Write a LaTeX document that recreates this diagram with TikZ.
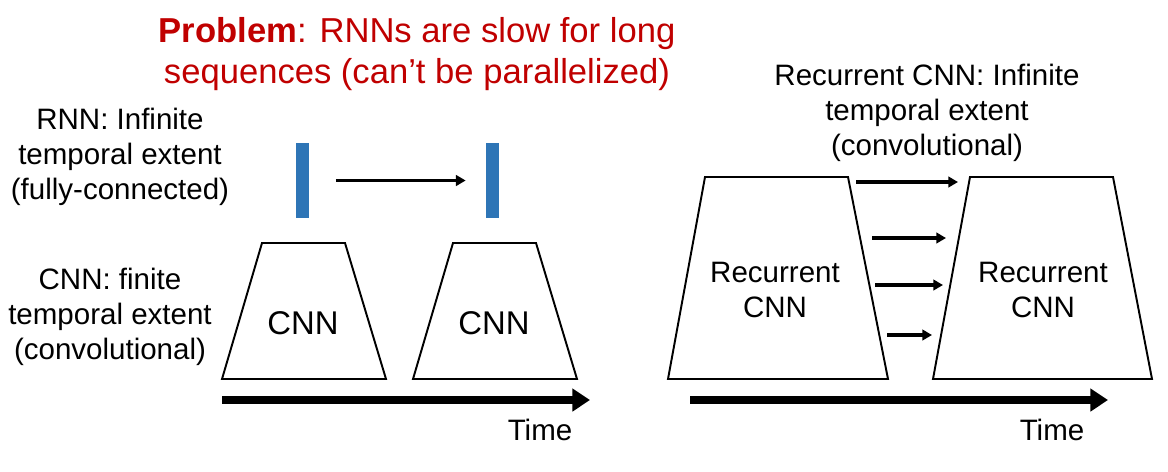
\documentclass[tikz,border=0pt]{standalone}
\usepackage{fontspec}
\setmainfont{Liberation Sans}
\usetikzlibrary{arrows.meta, positioning}
\definecolor{probred}{RGB}{192,0,0}
\definecolor{barblue}{RGB}{46,117,182}

\begin{document}
\begin{tikzpicture}[
  x=0.02cm, y=-0.02cm,
  lbl/.style={align=center, font=\fontsize{16.8}{19.8}\selectfont, inner sep=0pt},
  biglbl/.style={lbl, font=\fontsize{18.7}{22}\selectfont},
  title/.style={align=center, text=probred, font=\fontsize{19.7}{23.8}\selectfont, inner sep=0pt},
  trap/.style={draw=black, line width=1.1pt, line join=miter},
  bar/.style={rectangle, fill=barblue, minimum width=0.26cm, minimum height=1.5cm, inner sep=0pt},
  arr/.style={-{Triangle[length=5.5pt, width=6pt]}, line width=2pt},
  timearr/.style={-{Triangle[length=10pt, width=12.5pt]}, line width=5pt}
]
\useasboundingbox (0,0) rectangle (1168,471);

% title
\node[title] (problem) at (417,54) {\textbf{Problem}: RNNs are slow for long\\sequences (can’t be parallelized)};

% left panel
\node[lbl] (rnnlbl) at (120,157) {RNN: Infinite\\temporal extent\\(fully-connected)};
\node[lbl] (cnnlbl) at (110,317) {CNN: finite\\temporal extent\\(convolutional)};

\node[bar] (bar1) at (302,180.5) {};
\node[bar] (bar2) at (492.5,180.5) {};
\draw[arr, shorten <=27*0.02cm, shorten >=20*0.02cm] (bar1) -- (bar2);

\draw[trap] (222,379) -- (262,243) -- (345,243) -- (386,379) -- cycle;
\draw[trap] (413,379) -- (453,243) -- (536,243) -- (577,379) -- cycle;
\node[biglbl] (cnn1) at (303,323) {CNN};
\node[biglbl] (cnn2) at (494,323) {CNN};

\coordinate (tl1) at (222,400);
\coordinate (tl2) at (590,400);
\draw[timearr] (tl1) -- (tl2);
\node[lbl] (time1) at (540,430) {Time};

% right panel
\node[lbl] (rcnnlbl) at (927,113) {Recurrent CNN: Infinite\\temporal extent\\(convolutional)};

\draw[trap] (668,379) -- (705,177) -- (848,177) -- (888,379) -- cycle;
\draw[trap] (933,379) -- (970,177) -- (1113,177) -- (1152,379) -- cycle;
\node[lbl] (rcnn1) at (775,290) {Recurrent\\CNN};
\node[lbl] (rcnn2) at (1043,290) {Recurrent\\CNN};

\coordinate (h1s) at (856,182);  \coordinate (h1e) at (958,182);
\coordinate (h2s) at (872,238);  \coordinate (h2e) at (946,238);
\coordinate (h3s) at (875,285);  \coordinate (h3e) at (943,285);
\coordinate (h4s) at (887,335);  \coordinate (h4e) at (932,335);
\draw[arr] (h1s) -- (h1e);
\draw[arr] (h2s) -- (h2e);
\draw[arr] (h3s) -- (h3e);
\draw[arr] (h4s) -- (h4e);

\coordinate (tr1) at (690,400);
\coordinate (tr2) at (1108,400);
\draw[timearr] (tr1) -- (tr2);
\node[lbl] (time2) at (1052,430) {Time};

\end{tikzpicture}
\end{document}
